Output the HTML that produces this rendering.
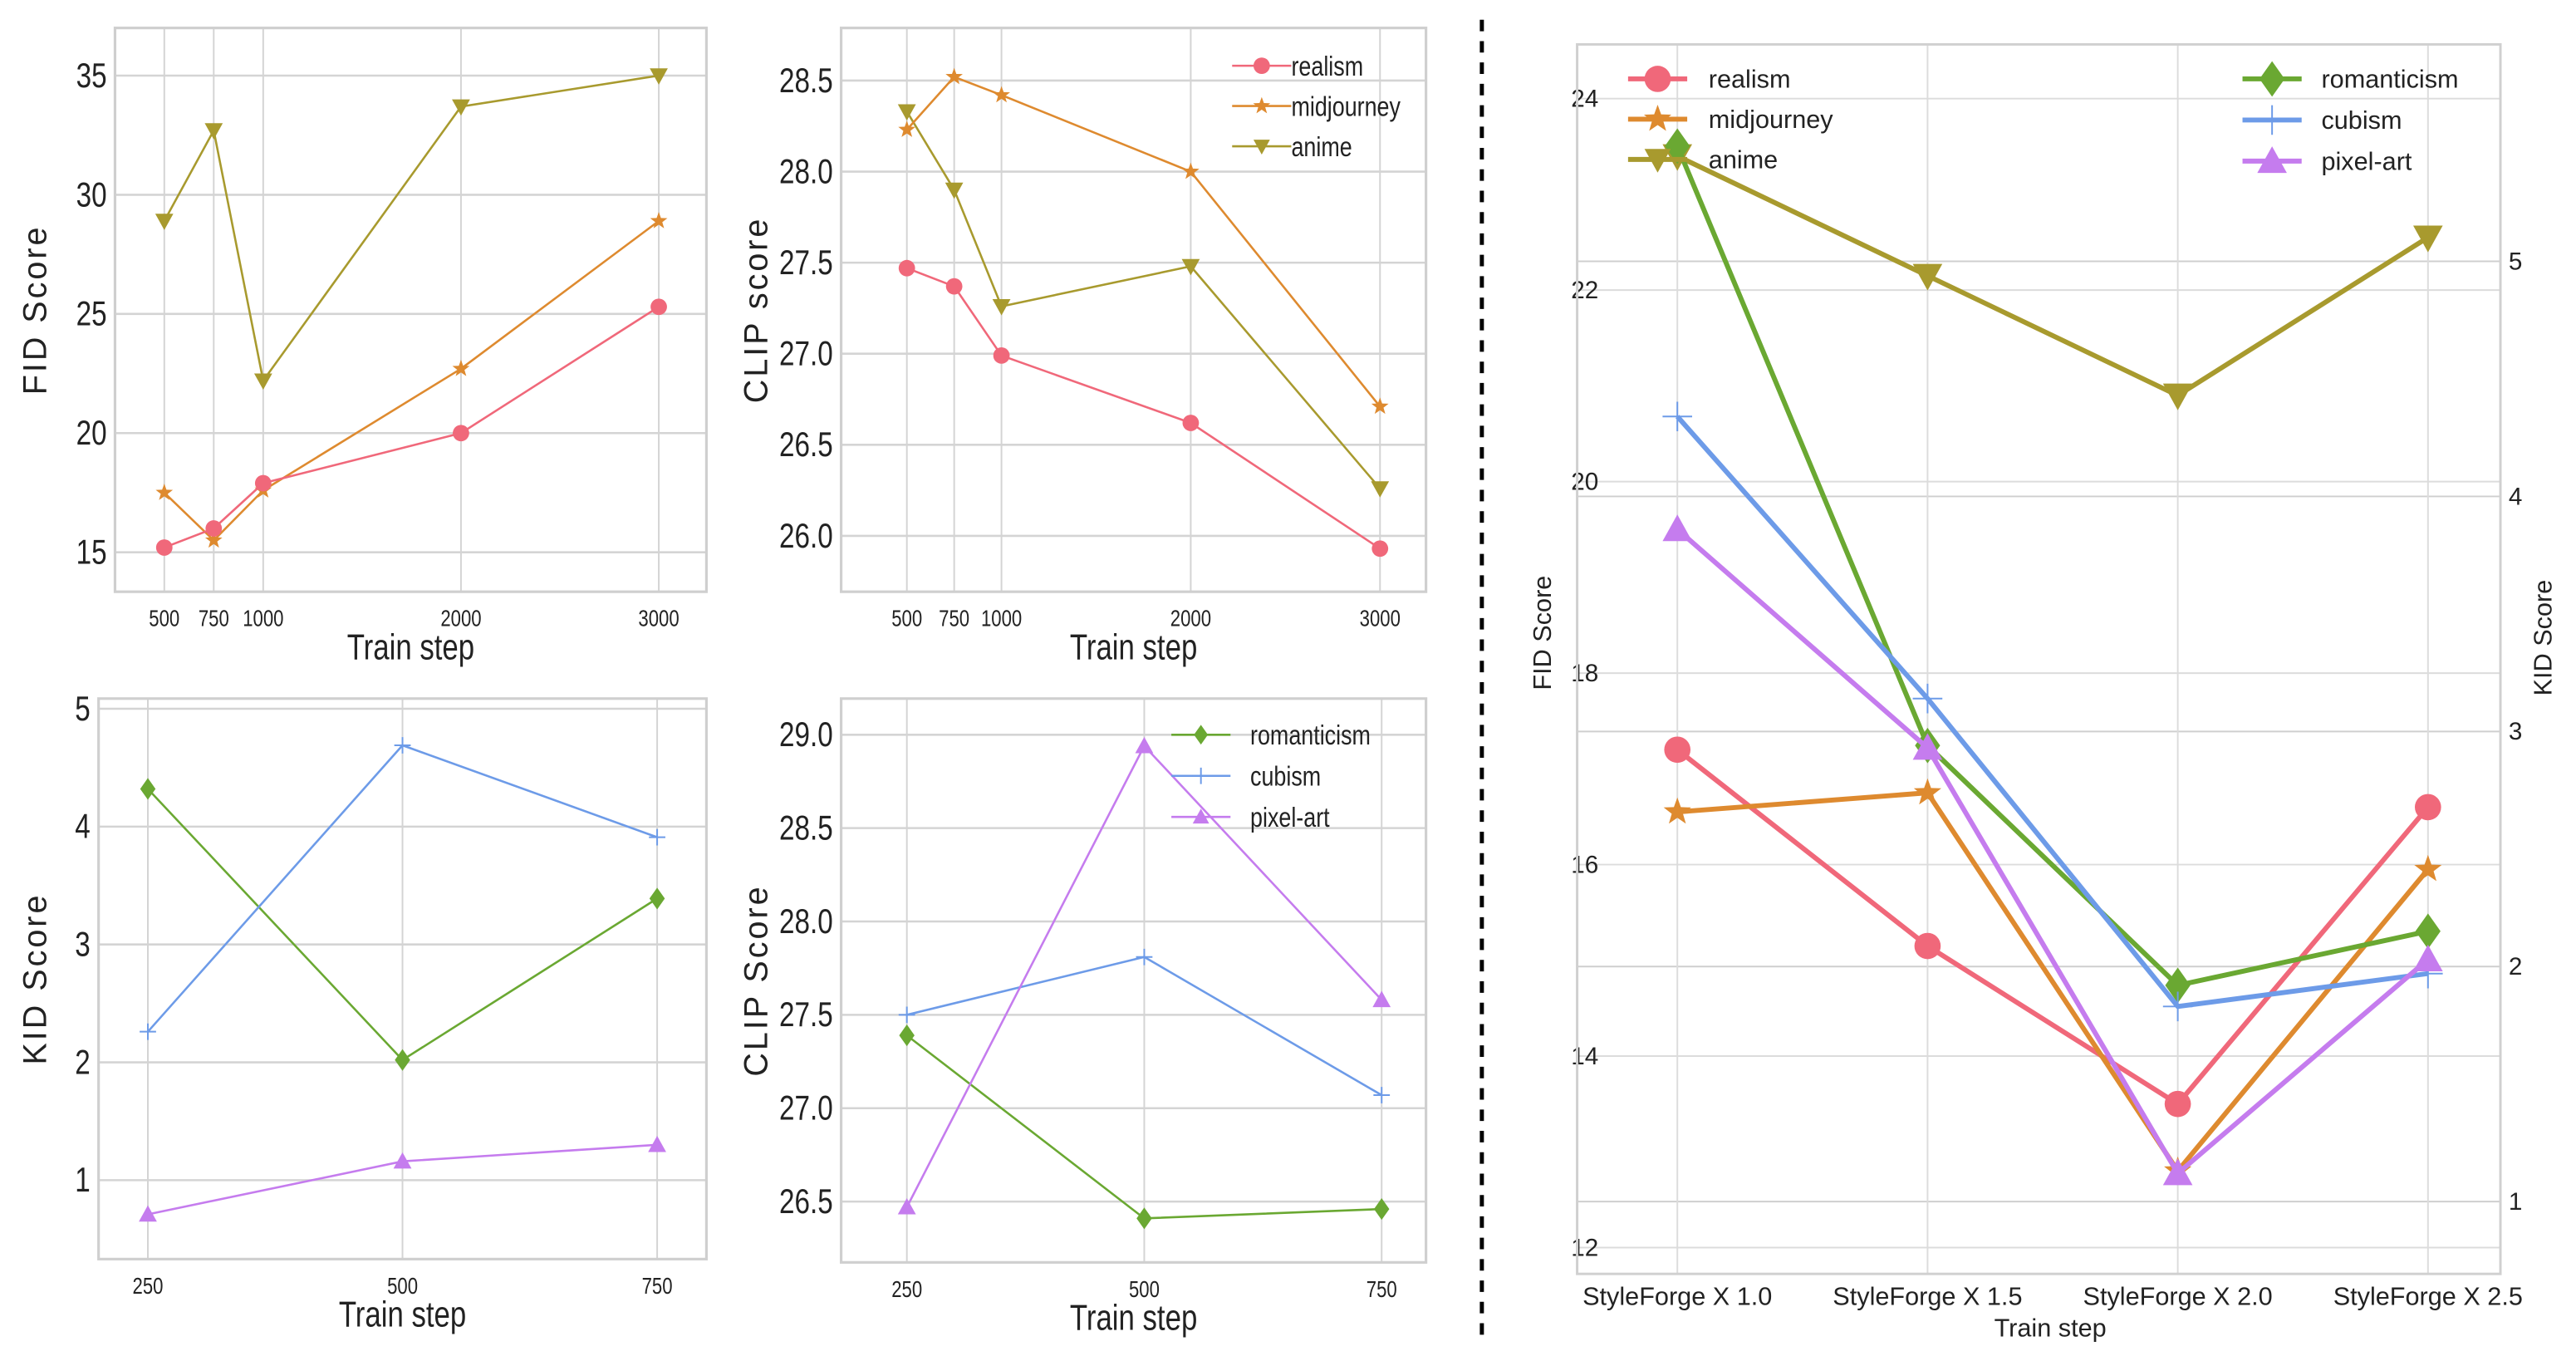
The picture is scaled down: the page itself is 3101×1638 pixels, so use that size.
<!DOCTYPE html>
<html><head><meta charset="utf-8"><style>
html,body{margin:0;padding:0;background:#fff;}
svg{display:block;}
text{font-family:"Liberation Sans",sans-serif;fill:#222;}
</style></head><body>
<svg id="fig" width="3101" height="1638" viewBox="0 0 1568 828" preserveAspectRatio="none" xmlns="http://www.w3.org/2000/svg"></svg>
<script>
// ---- data ----
const fidSteps = [500, 750, 1000, 2000, 3000];
const fidRealism = [15.2, 16.0, 17.9, 20.0, 25.3];
const fidMidjourney = [17.5, 15.5, 17.6, 22.7, 28.9];
const fidAnime = [28.9, 32.7, 22.2, 33.7, 35.0];
const fidTicks = [15, 20, 25, 30, 35];
const clipRealism = [27.47, 27.37, 26.99, 26.62, 25.93];
const clipMidjourney = [28.23, 28.52, 28.42, 28.0, 26.71];
const clipAnime = [28.33, 27.9, 27.26, 27.48, 26.26];
const clipTicks = ["26.0", "26.5", "27.0", "27.5", "28.0", "28.5"];
const kidSteps = [250, 500, 750];
const kidRomanticism = [4.32, 2.02, 3.39];
const kidCubism = [2.26, 4.69, 3.91];
const kidPixelArt = [0.71, 1.16, 1.30];
const kidTicks = [1, 2, 3, 4, 5];
const clip2Romanticism = [27.39, 26.41, 26.46];
const clip2Cubism = [27.5, 27.81, 27.07];
const clip2PixelArt = [26.47, 28.94, 27.58];
const clip2Ticks = ["26.5", "27.0", "27.5", "28.0", "28.5", "29.0"];
const versions = ["StyleForge X 1.0", "StyleForge X 1.5", "StyleForge X 2.0", "StyleForge X 2.5"];
const bigRealism = [17.2, 15.15, 13.5, 16.6];
const bigMidjourney = [16.55, 16.75, 12.8, 15.95];
const bigAnime = [23.4, 22.15, 20.9, 22.55];
const bigRomanticism = [5.49, 2.94, 1.92, 2.15];
const bigCubism = [4.34, 3.14, 1.83, 1.97];
const bigPixelArt = [3.86, 2.93, 1.12, 2.03];
const bigFidTicks = [12, 14, 16, 18, 20, 22, 24];
const bigKidTicks = [1, 2, 3, 4, 5];

const C = {realism:"#f0687a", midjourney:"#de8a2f", anime:"#a89a2e", romanticism:"#6aa832", cubism:"#6d9be8", pixel:"#c57cee"};
const NS = "http://www.w3.org/2000/svg";
const svg = document.getElementById('fig');
function mk(tag, attrs, parent){
  const e = document.createElementNS(NS, tag);
  for (const k in attrs) e.setAttribute(k, attrs[k]);
  (parent||svg).appendChild(e);
  return e;
}
// condensed text helper
function ntext(parent, x, y, size, anchor, str){
  const t = mk('text',{x:0,y:0,'text-anchor':anchor,'font-size':size,transform:`translate(${x},${y}) scale(0.8,1)`},parent);
  t.textContent = str;
  return t;
}
function marker(g, type, x, y, r, color){
  let e;
  if (type==='circle') e = mk('circle',{cx:x,cy:y,r:r,fill:color},g);
  else if (type==='star'){
    let p=[];for(let i=0;i<10;i++){const a=-Math.PI/2+i*Math.PI/5;const rr=i%2?r*0.45:r*1.1;p.push((x+rr*Math.cos(a)).toFixed(2)+','+(y+rr*Math.sin(a)).toFixed(2));}
    e = mk('polygon',{points:p.join(' '),fill:color},g);
  } else if (type==='tdown') e = mk('polygon',{points:`${x-r},${y-r*0.8} ${x+r},${y-r*0.8} ${x},${y+r}`,fill:color},g);
  else if (type==='tup') e = mk('polygon',{points:`${x-r},${y+r*0.8} ${x+r},${y+r*0.8} ${x},${y-r}`,fill:color},g);
  else if (type==='diamond') e = mk('polygon',{points:`${x},${y-r*1.2} ${x+r*0.85},${y} ${x},${y+r*1.2} ${x-r*0.85},${y}`,fill:color},g);
  else if (type==='plus'){ e = mk('path',{d:`M${x-r},${y}H${x+r}M${x},${y-r}V${y+r}`,stroke:color,'stroke-width':1},g); }
  
  
  return e;
}
function series(name, xs, ys, fx, fy, color, type, lw, r){
  const g = mk('g',{});
  
  
  const pts = xs.map((x,i)=>fx(x,i)+','+fy(ys[i])).join(' ');
  const l = mk('polyline',{points:pts,fill:'none',stroke:color,'stroke-width':lw,'stroke-linejoin':'round'},g);
  
  
  xs.forEach((x,i)=>marker(g,type,fx(x,i),fy(ys[i]),r,color));
}
function panel(name, box, xs, xlabels, fx, ticks, fy, ylabel, xlabel, ytx){
  const g = mk('g',{});
  
  
  ticks.forEach(t=>{const y=fy(+t);
    const gl=mk('line',{x1:box.l,x2:box.r,y1:y,y2:y,stroke:'#d4d4d4','stroke-width':1.3},g);
    
    const tl=ntext(g,box.l-5,y+7,21,'end',t);
    
  });
  xs.forEach((x,i)=>{const xx=fx(x,i);
    const gl=mk('line',{x1:xx,x2:xx,y1:box.t,y2:box.b,stroke:'#d4d4d4','stroke-width':1},g);
    
    const tl=ntext(g,xx,box.b+21,14,'middle',xlabels[i]);
    
  });
  const fr=mk('rect',{x:box.l,y:box.t,width:box.r-box.l,height:box.b-box.t,fill:'none',stroke:'#cfcfcf','stroke-width':1.6},g);
  
  const yl=mk('text',{x:0,y:0,'text-anchor':'middle','font-size':20,transform:`translate(${ytx},${(box.t+box.b)/2}) rotate(-90)`,'letter-spacing':1.5},g);
  yl.textContent=ylabel;
  
  const xl=ntext(g,(box.l+box.r)/2,box.b+41,22,'middle',xlabel);
  
}
function legend(name, x, y0, dy, items, lw, r, fs, tx, narrow){
  const g = mk('g',{});
  
  
  items.forEach((it,i)=>{const y=y0+i*dy;
    const ln=mk('line',{x1:x-18,x2:x+18,y1:y,y2:y,stroke:it[1],'stroke-width':lw},g);
    
    marker(g,it[2],x,y,r,it[1]);
    let t;
    if (narrow) t=ntext(g,x+tx,y+fs*0.35,fs,'start',it[0]);
    else { t=mk('text',{x:x+tx,y:y+fs*0.35,'font-size':fs},g); t.textContent=it[0]; }
    
  });
}

// Panel 1: FID
(function(){
  const box={l:70,r:430,t:17,b:360};
  const fx=s=>100+(s-500)*0.1204, fy=v=>336-(v-15)*14.5;
  panel('fid-chart',box,fidSteps,fidSteps,fx,fidTicks,fy,'FID Score','Train step',28);
  series('anime',fidSteps,fidAnime,fx,fy,C.anime,'tdown',1.3,5.5);
  series('midjourney',fidSteps,fidMidjourney,fx,fy,C.midjourney,'star',1.3,5);
  series('realism',fidSteps,fidRealism,fx,fy,C.realism,'circle',1.3,5);
})();
// Panel 2: CLIP
(function(){
  const box={l:512,r:868,t:17,b:360};
  const fx=s=>552+(s-500)*0.1152, fy=v=>326-(v-26)*110.8;
  panel('clip-chart',box,fidSteps,fidSteps,fx,clipTicks,fy,'CLIP score','Train step',467);
  series('anime',fidSteps,clipAnime,fx,fy,C.anime,'tdown',1.3,5.5);
  series('midjourney',fidSteps,clipMidjourney,fx,fy,C.midjourney,'star',1.3,5);
  series('realism',fidSteps,clipRealism,fx,fy,C.realism,'circle',1.3,5);
  legend('clip-legend',768,40,24.5,[['realism',C.realism,'circle'],['midjourney',C.midjourney,'star'],['anime',C.anime,'tdown']],1.3,5,17,18,true);
})();
// Panel 3: KID
(function(){
  const box={l:60,r:430,t:425,b:766};
  const fx=s=>90+(s-250)*0.62, fy=v=>718-(v-1)*71.7;
  panel('kid-chart',box,kidSteps,kidSteps,fx,kidTicks,fy,'KID Score','Train step',28);
  series('romanticism',kidSteps,kidRomanticism,fx,fy,C.romanticism,'diamond',1.3,5.5);
  series('cubism',kidSteps,kidCubism,fx,fy,C.cubism,'plus',1.3,5);
  series('pixel-art',kidSteps,kidPixelArt,fx,fy,C.pixel,'tup',1.3,5.5);
})();
// Panel 4: CLIP 2
(function(){
  const box={l:512,r:868,t:425,b:768};
  const fx=s=>552+(s-250)*0.578, fy=v=>731-(v-26.5)*113.6;
  panel('clip-style-chart',box,kidSteps,kidSteps,fx,clip2Ticks,fy,'CLIP Score','Train step',467);
  series('romanticism',kidSteps,clip2Romanticism,fx,fy,C.romanticism,'diamond',1.3,5.5);
  series('cubism',kidSteps,clip2Cubism,fx,fy,C.cubism,'plus',1.3,5);
  series('pixel-art',kidSteps,clip2PixelArt,fx,fy,C.pixel,'tup',1.3,5.5);
  legend('clip-style-legend',731,447,25,[['romanticism',C.romanticism,'diamond'],['cubism',C.cubism,'plus'],['pixel-art',C.pixel,'tup']],1.3,5,17,30,true);
})();
// divider
(function(){
  const d=mk('line',{x1:902,x2:902,y1:12,y2:812,stroke:'#000','stroke-width':2.5,'stroke-dasharray':'7,6'});
  
  
})();
// Panel 5: big dual-axis
(function(){
  const box={l:960,r:1522,t:27,b:775};
  const fx=(x,i)=>1021+i*152.3, fy=v=>759-(v-12)*58.25, fk=v=>731-(v-1)*143;
  const g=mk('g',{});
  
  
  bigFidTicks.forEach(t=>{const y=fy(t);
    const l=mk('line',{x1:box.l,x2:box.r,y1:y,y2:y,stroke:'#dcdcdc','stroke-width':1},g);
    
    const tx=mk('text',{x:973,y:y+5,'text-anchor':'end','font-size':15},g);
    tx.textContent=t;
    
  });
  bigKidTicks.forEach(t=>{const y=fk(t);
    const l=mk('line',{x1:box.l,x2:box.r,y1:y,y2:y,stroke:'#cfcfcf','stroke-width':1},g);
    
    const tx=mk('text',{x:1527,y:y+5,'font-size':15},g);
    tx.textContent=t;
    
  });
  versions.forEach((v,i)=>{const x=fx(v,i);
    const l=mk('line',{x1:x,x2:x,y1:box.t,y2:box.b,stroke:'#dcdcdc','stroke-width':1},g);
    
    const tx=mk('text',{x:x,y:794,'text-anchor':'middle','font-size':15.5},g);
    tx.textContent=v;
    
  });
  const fr=mk('rect',{x:box.l,y:box.t,width:box.r-box.l,height:box.b-box.t,fill:'none',stroke:'#d0d0d0','stroke-width':1.5},g);
  
  const xt=mk('text',{x:1248,y:813,'text-anchor':'middle','font-size':15.5},g);
  xt.textContent='Train step';
  
  const yt=mk('text',{x:0,y:0,'text-anchor':'middle','font-size':15.5,transform:'translate(944,385) rotate(-90)'},g);
  yt.textContent='FID Score';
  
  const yt2=mk('text',{x:0,y:0,'text-anchor':'middle','font-size':15.5,transform:'translate(1553,388) rotate(-90)'},g);
  yt2.textContent='KID Score';
  
  series('realism',versions,bigRealism,fx,fy,C.realism,'circle',3,8);
  series('midjourney',versions,bigMidjourney,fx,fy,C.midjourney,'star',3,8);
  series('anime',versions,bigAnime,fx,fy,C.anime,'tdown',3,9);
  series('romanticism',versions,bigRomanticism,fx,fk,C.romanticism,'diamond',3,9);
  series('cubism',versions,bigCubism,fx,fk,C.cubism,'plus',3,9);
  series('pixel-art',versions,bigPixelArt,fx,fk,C.pixel,'tup',3,9);
  legend('left-legend',1009,48,24.5,[['realism',C.realism,'circle'],['midjourney',C.midjourney,'star'],['anime',C.anime,'tdown']],3,8,15.5,31,false);
  legend('right-legend',1383,48,25,[['romanticism',C.romanticism,'diamond'],['cubism',C.cubism,'plus'],['pixel-art',C.pixel,'tup']],3,9,15.5,30,false);
})();
</script>
</body></html>
